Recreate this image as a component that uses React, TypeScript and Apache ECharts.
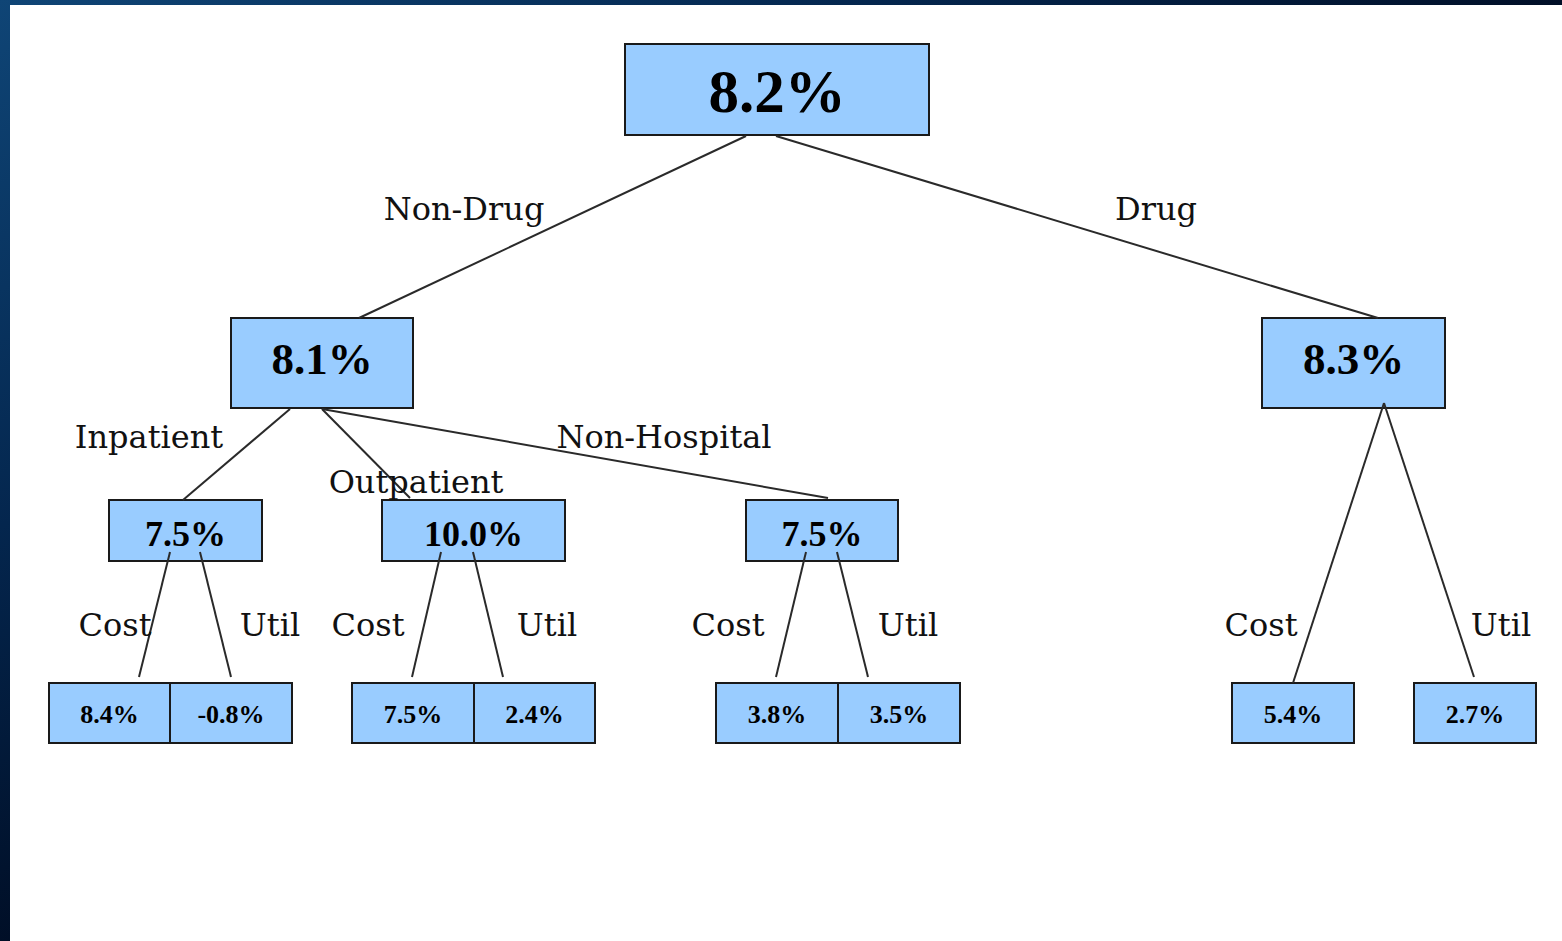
import React, { useEffect, useRef } from "react";
import * as echarts from "echarts";

// ---- data ----
const nodeNames = [
  "Total", "Non-Drug", "Drug", "Inpatient", "Outpatient", "Non-Hospital",
  "Inpatient Cost", "Inpatient Util", "Outpatient Cost", "Outpatient Util",
  "Non-Hospital Cost", "Non-Hospital Util", "Drug Cost", "Drug Util",
];
const nodeValues = [8.2, 8.1, 8.3, 7.5, 10.0, 7.5, 8.4, -0.8, 7.5, 2.4, 3.8, 3.5, 5.4, 2.7];
const edges = [
  [0, 1], [0, 2], [1, 3], [1, 4], [1, 5], [3, 6], [3, 7], [4, 8], [4, 9], [5, 10], [5, 11], [2, 12], [2, 13],
];
const edgeLabels = [
  "Non-Drug", "Drug", "Inpatient", "Outpatient", "Non-Hospital",
  "Cost", "Util", "Cost", "Util", "Cost", "Util", "Cost", "Util",
];

// ---- layout (page pixels) ----
const nodeBoxes = [
  [625, 44, 929, 135], [231, 318, 413, 408], [1262, 318, 1445, 408],
  [109, 500, 262, 561], [382, 500, 565, 561], [746, 500, 898, 561],
  [49, 683, 170, 743], [170, 683, 292, 743], [352, 683, 474, 743], [474, 683, 595, 743],
  [716, 683, 838, 743], [838, 683, 960, 743], [1232, 683, 1354, 743], [1414, 683, 1536, 743],
];
const nodeLevel = [0, 1, 1, 2, 2, 2, 3, 3, 3, 3, 3, 3, 3, 3];
const levelFont = [61, 45, 36, 26];
const levelTextDy = [2, -4, 3, 1];
const edgeLines = [
  [746, 136, 359, 318], [776, 136, 1378, 318],
  [290, 409, 183, 500], [322, 409, 410, 498], [322, 409, 828, 498],
  [170, 552, 139, 677], [200, 552, 231, 677],
  [441, 552, 412, 677], [473, 552, 503, 677],
  [806, 552, 776, 677], [837, 552, 868, 677],
  [1384, 403, 1293, 683], [1384, 403, 1474, 677],
];
const labelPos = [
  [464, 219], [1156, 219], [149, 447], [416, 492], [664, 447],
  [115, 635], [270, 635], [368, 635], [547, 635], [728, 635], [908, 635], [1261, 635], [1501, 635],
];
const labelFont = 32;

export default function App() {
  const ref = useRef<HTMLDivElement>(null);
  useEffect(() => {
    document.body.style.margin = "0";
    const chart = echarts.init(ref.current!, undefined, { renderer: "svg" });
    chart.setOption({
      animation: false,
      backgroundColor: "#ffffff",
      grid: { left: 0, right: 0, top: 0, bottom: 0 },
      xAxis: { type: "value", min: 10, max: 1562, show: false },
      yAxis: { type: "value", min: 5, max: 941, inverse: true, show: false },
      tooltip: { show: false },
      series: [
        {
          type: "custom",
          name: "nodes",
          z: 2,
          silent: true,
          data: nodeBoxes.map((b) => b),
          encode: { x: [0, 2], y: [1, 3] },
          renderItem: (params: any, api: any) => {
            const i = params.dataIndex;
            const b = nodeBoxes[i];
            const p1 = api.coord([b[0], b[1]]);
            const p2 = api.coord([b[2], b[3]]);
            const lv = nodeLevel[i];
            const v = nodeValues[i];
            return {
              type: "group",
              children: [
                {
                  type: "rect",
                  shape: { x: p1[0], y: p1[1], width: p2[0] - p1[0], height: p2[1] - p1[1] },
                  style: { fill: "#99ccff", stroke: "#1a1a1a", lineWidth: 2 },
                },
                {
                  type: "text",
                  x: (p1[0] + p2[0]) / 2,
                  y: (p1[1] + p2[1]) / 2 + levelTextDy[lv],
                  style: {
                    text: v.toFixed(1) + "%",
                    fill: "#000000",
                    font: `bold ${levelFont[lv]}px "Liberation Serif", "Times New Roman", serif`,
                    align: "center",
                    verticalAlign: "middle",
                  },
                },
              ],
            };
          },
        },
        {
          type: "lines",
          name: "edges",
          coordinateSystem: "cartesian2d",
          z: 3,
          silent: true,
          lineStyle: { color: "#2a2a2a", width: 2, opacity: 1 },
          data: edges.map((e, i) => ({
            name: nodeNames[e[0]] + " → " + nodeNames[e[1]],
            coords: [
              [edgeLines[i][0], edgeLines[i][1]],
              [edgeLines[i][2], edgeLines[i][3]],
            ],
          })),
        },
        {
          type: "custom",
          name: "edgeLabels",
          z: 4,
          silent: true,
          data: labelPos.map((p) => p),
          renderItem: (params: any, api: any) => {
            const i = params.dataIndex;
            const p = api.coord(labelPos[i]);
            return {
              type: "text",
              x: p[0],
              y: p[1] - 0.3 * labelFont,
              style: {
                text: edgeLabels[i],
                fill: "#111111",
                font: `${labelFont}px "DejaVu Serif", serif`,
                align: "center",
                verticalAlign: "middle",
              },
            };
          },
        },
      ],
    });
    return () => chart.dispose();
  }, []);
  return (
    <div
      style={{
        width: 1562,
        height: 941,
        boxSizing: "border-box",
        paddingLeft: 10,
        paddingTop: 5,
        background: "linear-gradient(to bottom right, #0f4576 0%, #04264e 28%, #000d24 52%, #00050f 100%)",
      }}
    >
      <div ref={ref} style={{ width: 1552, height: 936 }} />
    </div>
  );
}
